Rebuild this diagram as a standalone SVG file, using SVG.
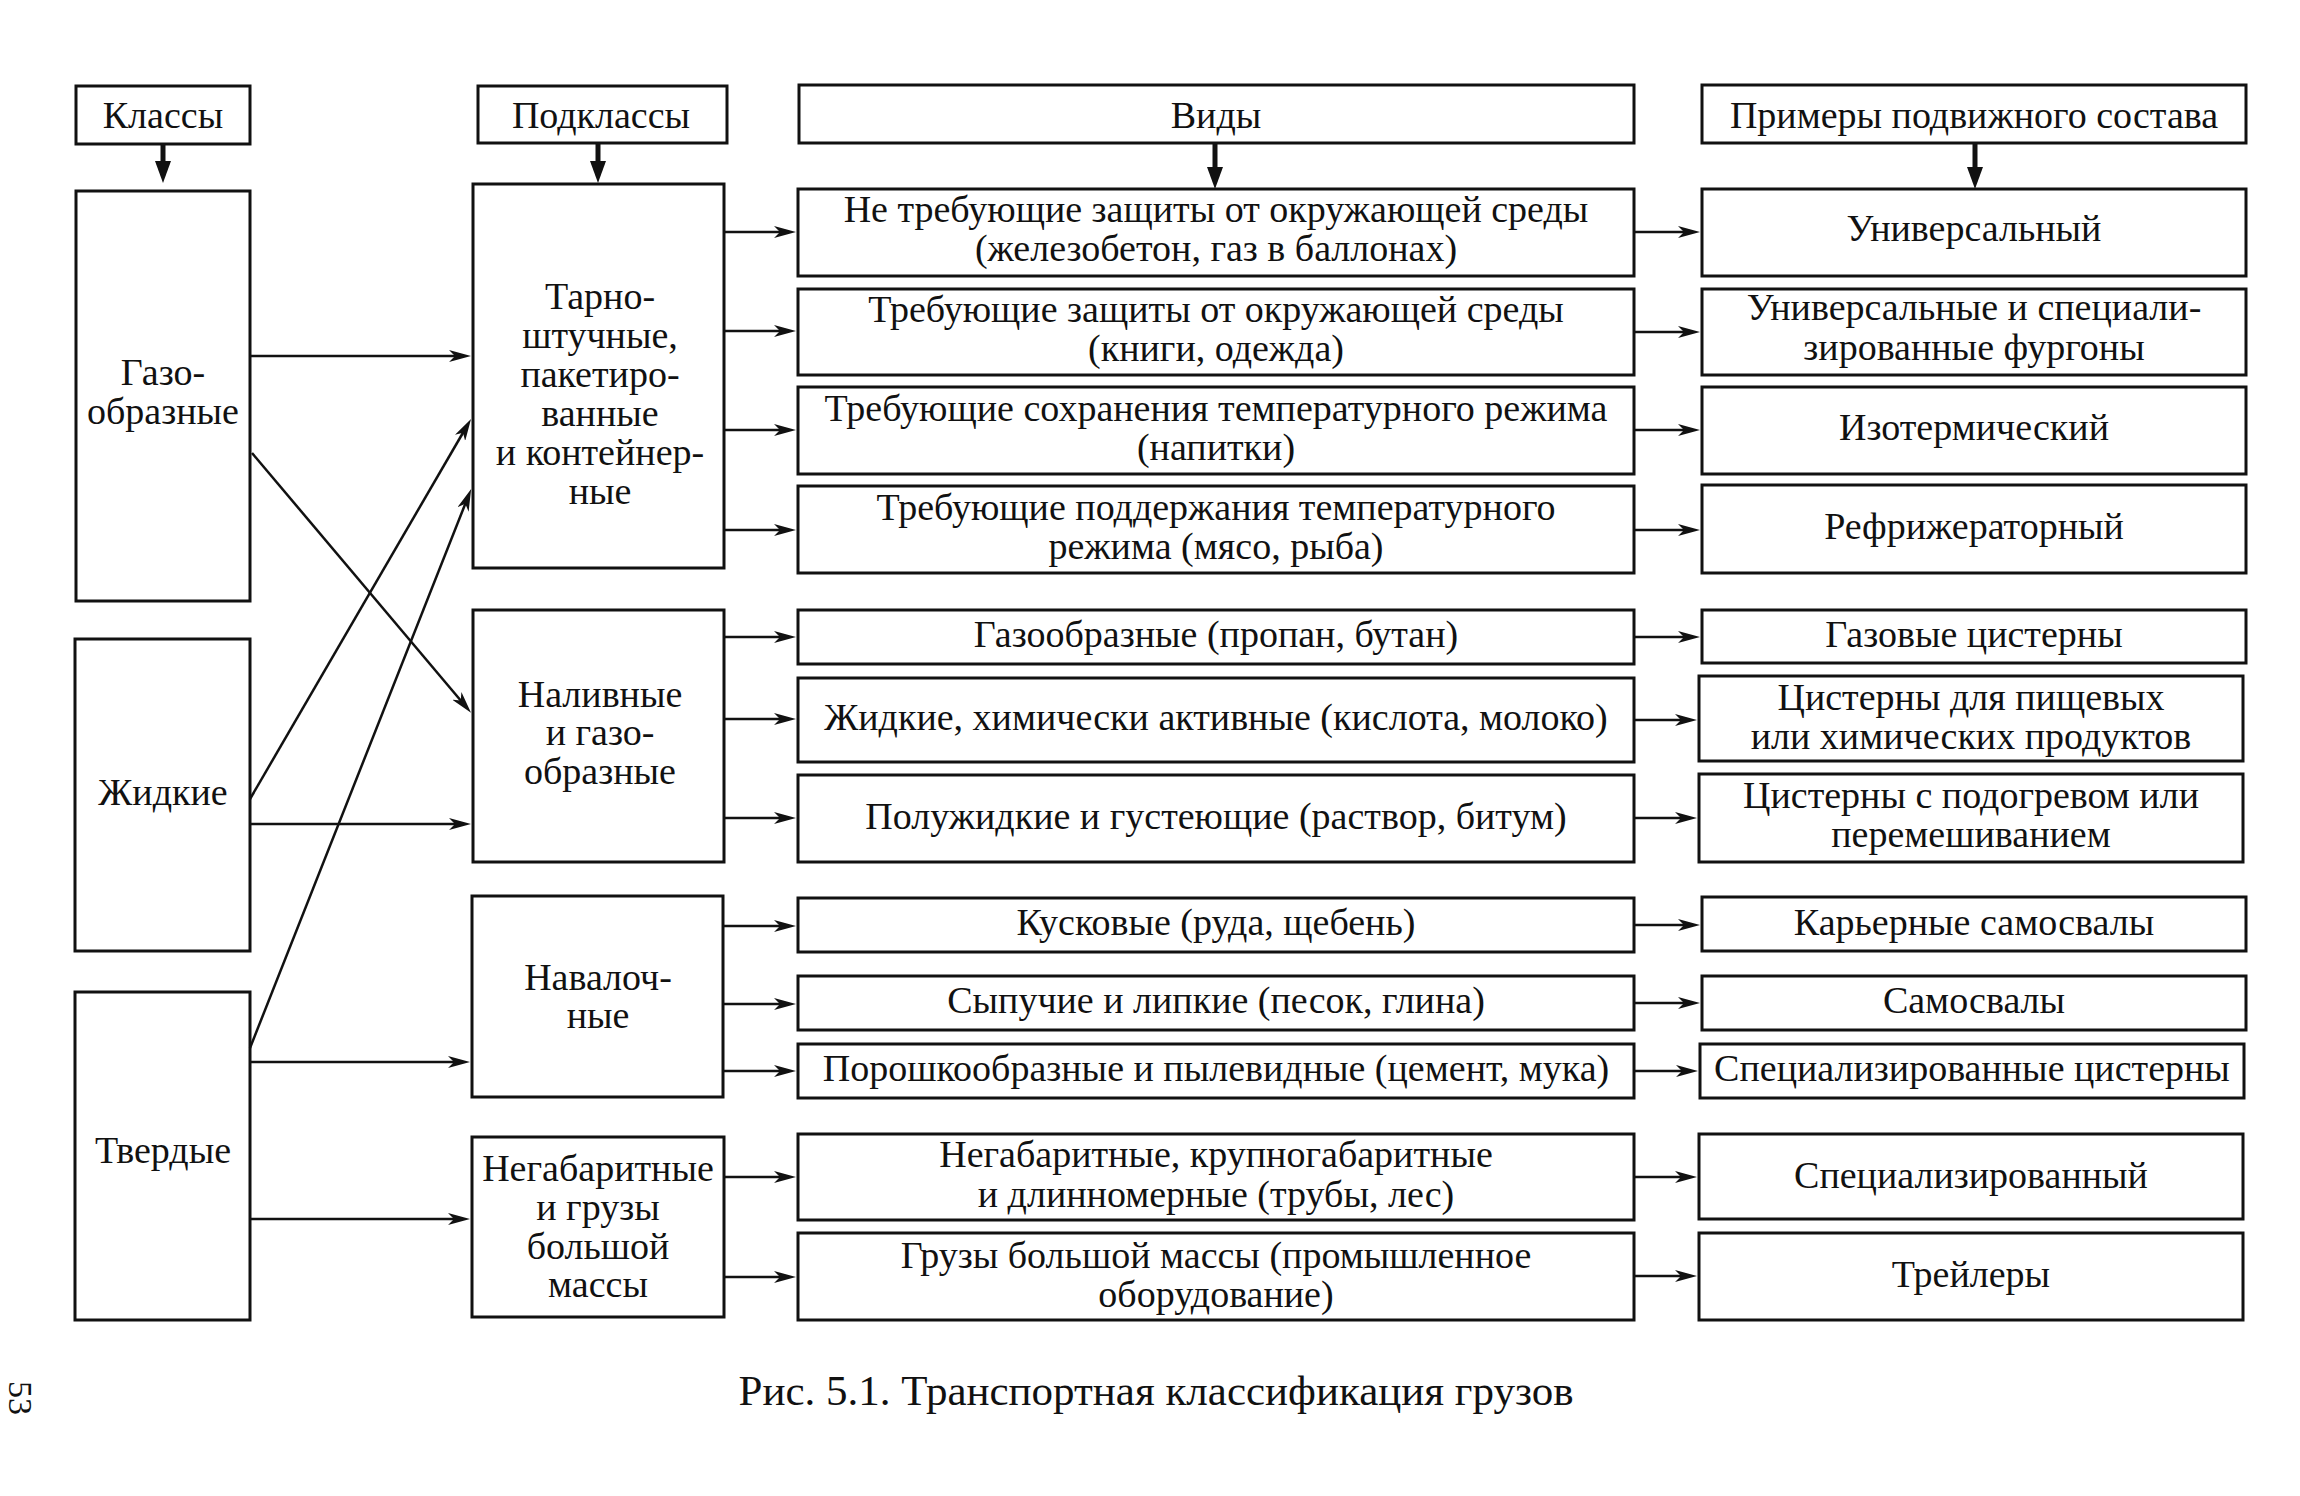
<svg xmlns="http://www.w3.org/2000/svg" width="2300" height="1496" viewBox="0 0 2300 1496">
<style>
.bx{fill:#fff;stroke:#111;stroke-width:3}
.t{font-family:"Liberation Serif","Times New Roman",serif;font-size:38px;fill:#111;text-anchor:middle}
.c{stroke:#111;stroke-width:2.5;fill:none}
.h{stroke:#111;stroke-width:5;fill:none}
.cap{font-family:"Liberation Serif","Times New Roman",serif;font-size:43px;fill:#111;text-anchor:middle}
</style>
<defs>
<marker id="ah" viewBox="0 0 22 12" refX="8" refY="6" markerWidth="22" markerHeight="12" markerUnits="userSpaceOnUse" orient="auto">
<path d="M0,0 L22,6 L0,12 L6,6 z" fill="#111"/>
</marker>
<marker id="ahb" viewBox="0 0 22 16" refX="5" refY="8" markerWidth="22" markerHeight="16" markerUnits="userSpaceOnUse" orient="auto">
<path d="M0,0 L22,8 L0,16 z" fill="#111"/>
</marker>
</defs>
<rect width="2300" height="1496" fill="#fff"/>

<g id="h-classes"><rect class="bx" x="76" y="86" width="174" height="58"/><text class="t" x="163" y="128">Классы</text></g>
<g id="h-subclasses"><rect class="bx" x="478" y="86" width="249" height="57"/><text class="t" x="601" y="128">Подклассы</text></g>
<g id="h-kinds"><rect class="bx" x="799" y="85" width="835" height="58"/><text class="t" x="1216" y="128">Виды</text></g>
<g id="h-examples"><rect class="bx" x="1702" y="85" width="544" height="58"/><text class="t" x="1974" y="128">Примеры подвижного состава</text></g>

<g id="c-gas"><rect class="bx" x="76" y="191" width="174" height="410"/><text class="t" x="163" y="385">Газо-</text><text class="t" x="163" y="424">образные</text></g>
<g id="c-liquid"><rect class="bx" x="75" y="639" width="175" height="312"/><text class="t" x="163" y="805">Жидкие</text></g>
<g id="c-solid"><rect class="bx" x="75" y="992" width="175" height="328"/><text class="t" x="163" y="1163">Твердые</text></g>

<g id="s-tare"><rect class="bx" x="473" y="184" width="251" height="384"/>
<text class="t" x="600" y="309">Тарно-</text><text class="t" x="600" y="348">штучные,</text><text class="t" x="600" y="387">пакетиро-</text><text class="t" x="600" y="426">ванные</text><text class="t" x="600" y="465">и контейнер-</text><text class="t" x="600" y="504">ные</text></g>
<g id="s-liquid"><rect class="bx" x="473" y="610" width="251" height="252"/>
<text class="t" x="600" y="707">Наливные</text><text class="t" x="600" y="745">и газо-</text><text class="t" x="600" y="784">образные</text></g>
<g id="s-bulk"><rect class="bx" x="472" y="896" width="251" height="201"/>
<text class="t" x="598" y="990">Навалоч-</text><text class="t" x="598" y="1028">ные</text></g>
<g id="s-oversize"><rect class="bx" x="472" y="1137" width="252" height="180"/>
<text class="t" x="598" y="1181">Негабаритные</text><text class="t" x="598" y="1220">и грузы</text><text class="t" x="598" y="1259">большой</text><text class="t" x="598" y="1297">массы</text></g>

<g id="k1"><rect class="bx" x="798" y="189" width="836" height="87"/><text class="t" x="1216" y="222">Не требующие защиты от окружающей среды</text><text class="t" x="1216" y="261">(железобетон, газ в баллонах)</text></g>
<g id="k2"><rect class="bx" x="798" y="289" width="836" height="86"/><text class="t" x="1216" y="322">Требующие защиты от окружающей среды</text><text class="t" x="1216" y="361">(книги, одежда)</text></g>
<g id="k3"><rect class="bx" x="798" y="387" width="836" height="87"/><text class="t" x="1216" y="421">Требующие сохранения температурного режима</text><text class="t" x="1216" y="460">(напитки)</text></g>
<g id="k4"><rect class="bx" x="798" y="486" width="836" height="87"/><text class="t" x="1216" y="520">Требующие поддержания температурного</text><text class="t" x="1216" y="559">режима (мясо, рыба)</text></g>
<g id="k5"><rect class="bx" x="798" y="610" width="836" height="54"/><text class="t" x="1216" y="647">Газообразные (пропан, бутан)</text></g>
<g id="k6"><rect class="bx" x="798" y="678" width="836" height="84"/><text class="t" x="1216" y="730">Жидкие, химически активные (кислота, молоко)</text></g>
<g id="k7"><rect class="bx" x="798" y="775" width="836" height="87"/><text class="t" x="1216" y="829">Полужидкие и густеющие (раствор, битум)</text></g>
<g id="k8"><rect class="bx" x="798" y="898" width="836" height="54"/><text class="t" x="1216" y="935">Кусковые (руда, щебень)</text></g>
<g id="k9"><rect class="bx" x="798" y="976" width="836" height="54"/><text class="t" x="1216" y="1013">Сыпучие и липкие (песок, глина)</text></g>
<g id="k10"><rect class="bx" x="798" y="1044" width="836" height="54"/><text class="t" x="1216" y="1081">Порошкообразные и пылевидные (цемент, мука)</text></g>
<g id="k11"><rect class="bx" x="798" y="1134" width="836" height="86"/><text class="t" x="1216" y="1167">Негабаритные, крупногабаритные</text><text class="t" x="1216" y="1207">и длинномерные (трубы, лес)</text></g>
<g id="k12"><rect class="bx" x="798" y="1233" width="836" height="87"/><text class="t" x="1216" y="1268">Грузы большой массы (промышленное</text><text class="t" x="1216" y="1307">оборудование)</text></g>

<g id="e1"><rect class="bx" x="1702" y="189" width="544" height="87"/><text class="t" x="1974" y="241">Универсальный</text></g>
<g id="e2"><rect class="bx" x="1702" y="289" width="544" height="86"/><text class="t" x="1974" y="320">Универсальные и специали-</text><text class="t" x="1974" y="360">зированные фургоны</text></g>
<g id="e3"><rect class="bx" x="1702" y="387" width="544" height="87"/><text class="t" x="1974" y="440">Изотермический</text></g>
<g id="e4"><rect class="bx" x="1702" y="485" width="544" height="88"/><text class="t" x="1974" y="539">Рефрижераторный</text></g>
<g id="e5"><rect class="bx" x="1702" y="610" width="544" height="53"/><text class="t" x="1974" y="647">Газовые цистерны</text></g>
<g id="e6"><rect class="bx" x="1699" y="676" width="544" height="85"/><text class="t" x="1971" y="710">Цистерны для пищевых</text><text class="t" x="1971" y="749">или химических продуктов</text></g>
<g id="e7"><rect class="bx" x="1699" y="774" width="544" height="88"/><text class="t" x="1971" y="808">Цистерны с подогревом или</text><text class="t" x="1971" y="847">перемешиванием</text></g>
<g id="e8"><rect class="bx" x="1702" y="897" width="544" height="54"/><text class="t" x="1974" y="935">Карьерные самосвалы</text></g>
<g id="e9"><rect class="bx" x="1702" y="976" width="544" height="54"/><text class="t" x="1974" y="1013">Самосвалы</text></g>
<g id="e10"><rect class="bx" x="1700" y="1044" width="544" height="54"/><text class="t" x="1972" y="1081">Специализированные цистерны</text></g>
<g id="e11"><rect class="bx" x="1699" y="1134" width="544" height="85"/><text class="t" x="1971" y="1188">Специализированный</text></g>
<g id="e12"><rect class="bx" x="1699" y="1233" width="544" height="87"/><text class="t" x="1971" y="1287">Трейлеры</text></g>

<g id="connectors">
<line class="h" x1="163" y1="144" x2="163" y2="166" marker-end="url(#ahb)"/>
<line class="h" x1="598" y1="143" x2="598" y2="166" marker-end="url(#ahb)"/>
<line class="h" x1="1215" y1="143" x2="1215" y2="172" marker-end="url(#ahb)"/>
<line class="h" x1="1975" y1="143" x2="1975" y2="172" marker-end="url(#ahb)"/>

<line class="c" x1="250" y1="356" x2="457" y2="356" marker-end="url(#ah)"/>
<line class="c" x1="250" y1="824" x2="457" y2="824" marker-end="url(#ah)"/>
<line class="c" x1="250" y1="1062" x2="456" y2="1062" marker-end="url(#ah)"/>
<line class="c" x1="250" y1="1219" x2="456" y2="1219" marker-end="url(#ah)"/>
<line class="c" x1="252" y1="453" x2="462" y2="702" marker-end="url(#ah)"/>
<line class="c" x1="250" y1="799" x2="464" y2="431" marker-end="url(#ah)"/>
<line class="c" x1="250" y1="1048" x2="466" y2="502" marker-end="url(#ah)"/>

<line class="c" x1="724" y1="232" x2="782" y2="232" marker-end="url(#ah)"/>
<line class="c" x1="724" y1="331" x2="782" y2="331" marker-end="url(#ah)"/>
<line class="c" x1="724" y1="430" x2="782" y2="430" marker-end="url(#ah)"/>
<line class="c" x1="724" y1="530" x2="782" y2="530" marker-end="url(#ah)"/>
<line class="c" x1="724" y1="637" x2="782" y2="637" marker-end="url(#ah)"/>
<line class="c" x1="724" y1="719" x2="782" y2="719" marker-end="url(#ah)"/>
<line class="c" x1="724" y1="818" x2="782" y2="818" marker-end="url(#ah)"/>
<line class="c" x1="723" y1="926" x2="782" y2="926" marker-end="url(#ah)"/>
<line class="c" x1="723" y1="1004" x2="782" y2="1004" marker-end="url(#ah)"/>
<line class="c" x1="723" y1="1071" x2="782" y2="1071" marker-end="url(#ah)"/>
<line class="c" x1="724" y1="1177" x2="782" y2="1177" marker-end="url(#ah)"/>
<line class="c" x1="724" y1="1277" x2="782" y2="1277" marker-end="url(#ah)"/>

<line class="c" x1="1634" y1="232" x2="1686" y2="232" marker-end="url(#ah)"/>
<line class="c" x1="1634" y1="332" x2="1686" y2="332" marker-end="url(#ah)"/>
<line class="c" x1="1634" y1="430" x2="1686" y2="430" marker-end="url(#ah)"/>
<line class="c" x1="1634" y1="530" x2="1686" y2="530" marker-end="url(#ah)"/>
<line class="c" x1="1634" y1="637" x2="1686" y2="637" marker-end="url(#ah)"/>
<line class="c" x1="1634" y1="720" x2="1683" y2="720" marker-end="url(#ah)"/>
<line class="c" x1="1634" y1="818" x2="1683" y2="818" marker-end="url(#ah)"/>
<line class="c" x1="1634" y1="925" x2="1686" y2="925" marker-end="url(#ah)"/>
<line class="c" x1="1634" y1="1003" x2="1686" y2="1003" marker-end="url(#ah)"/>
<line class="c" x1="1634" y1="1071" x2="1684" y2="1071" marker-end="url(#ah)"/>
<line class="c" x1="1634" y1="1177" x2="1683" y2="1177" marker-end="url(#ah)"/>
<line class="c" x1="1634" y1="1276" x2="1683" y2="1276" marker-end="url(#ah)"/>
</g>

<text class="cap" x="1156" y="1405">Рис. 5.1. Транспортная классификация грузов</text>
<text class="t" style="text-anchor:start;font-size:34px" transform="translate(9,1381) rotate(90)" x="0" y="0">53</text>
</svg>
